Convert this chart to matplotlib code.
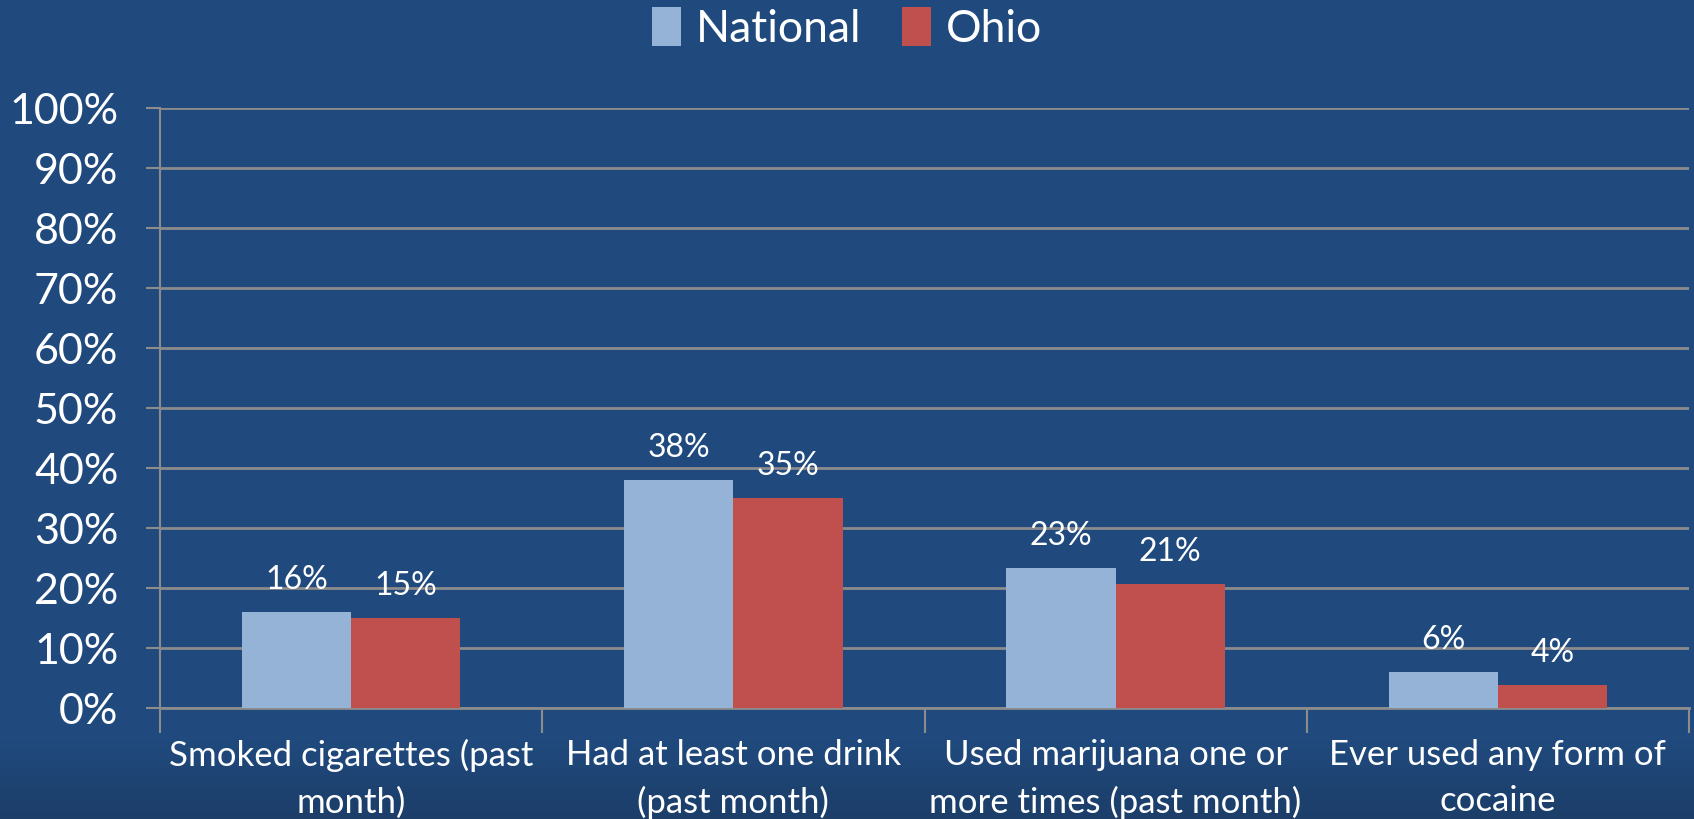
import matplotlib.pyplot as plt
import numpy as np

categories = [
    "Smoked cigarettes (past\nmonth)",
    "Had at least one drink\n(past month)",
    "Used marijuana one or\nmore times (past month)",
    "Ever used any form of\ncocaine",
]
national = [0.16, 0.38, 0.233, 0.06]
ohio = [0.15, 0.35, 0.207, 0.038]
national_labels = ["16%", "38%", "23%", "6%"]
ohio_labels = ["15%", "35%", "21%", "4%"]
y_ticks = [i / 10 for i in range(11)]

bg = "#204A7E"
grid_col = "#8C8C8C"
plt.rcParams["font.family"] = ["Lato", "DejaVu Sans"]

fig = plt.figure(figsize=(16.94, 8.19), dpi=100)
fig.patch.set_facecolor(bg)

# background with slight darker band at the bottom
bgax = fig.add_axes([0, 0, 1, 1], zorder=-10)
grad = np.ones((200, 1))
grad[:20, 0] = np.linspace(0, 1, 20)
bgax.imshow(grad, aspect="auto", cmap=plt.matplotlib.colors.LinearSegmentedColormap.from_list(
    "bg", ["#1C3E69", bg]), extent=[0, 1, 0, 1], origin="lower")
bgax.axis("off")

ax = fig.add_axes([0.0945, 0.1355, 0.9025, 0.7325])
ax.set_facecolor("none")

x = np.arange(len(categories))
w = 0.286
b1 = ax.bar(x - w / 2, national, w, color="#95B3D7", label="National", zorder=3)
b2 = ax.bar(x + w / 2, ohio, w, color="#C0504D", label="Ohio", zorder=3)

for bars, labels in [(b1, national_labels), (b2, ohio_labels)]:
    for rect, lab in zip(bars, labels):
        ax.annotate(lab, (rect.get_x() + rect.get_width() / 2, rect.get_height()),
                    xytext=(0, 23), textcoords="offset points", ha="center", va="center",
                    color="white", fontsize=23)

ax.set_xlim(-0.5, len(categories) - 0.5)
ax.set_ylim(0, 1)
ax.set_yticks(y_ticks)
ax.set_yticklabels([f"{int(round(t * 100))}%" for t in y_ticks])
ax.yaxis.grid(True, color=grid_col, linewidth=2, zorder=0)
ax.tick_params(axis="y", colors=grid_col, labelcolor="white", labelsize=31, length=10,
               width=1.5, pad=20)

ax.set_xticks(x)
ax.set_xticklabels(categories, color="white", fontsize=25, linespacing=1.55)
ax.set_xticks(np.arange(-0.5, len(categories)), minor=True)
ax.tick_params(axis="x", which="major", length=0, pad=22)
ax.tick_params(axis="x", which="minor", colors=grid_col, length=18, width=1.5)

for side in ["top", "right"]:
    ax.spines[side].set_visible(False)
ax.spines["left"].set_color(grid_col)
ax.spines["left"].set_linewidth(1.5)
ax.spines["bottom"].set_color(grid_col)
ax.spines["bottom"].set_linewidth(2)

leg = fig.legend(loc="upper center", bbox_to_anchor=(0.5, 1.04), ncol=2, frameon=False,
                 fontsize=32, labelcolor="white", handlelength=0.65, handleheight=0.95,
                 handletextpad=0.35, columnspacing=0.9)

fig.savefig("out.png", dpi=100, facecolor=bg)
